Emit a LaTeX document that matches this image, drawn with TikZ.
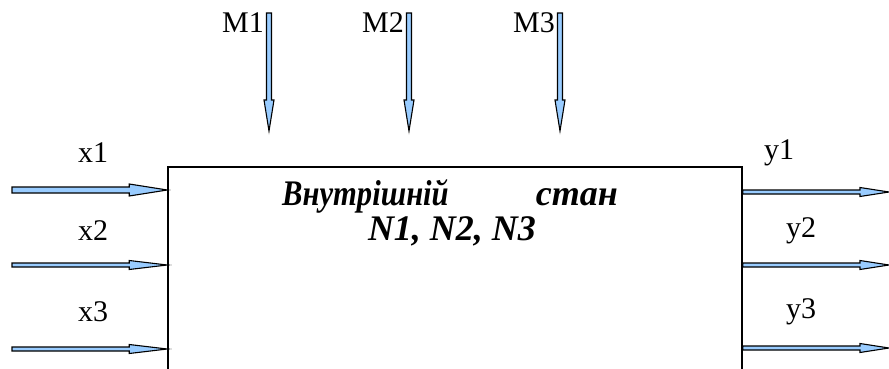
\documentclass[tikz,border=0pt]{standalone}
\usepackage{fontspec}
\setmainfont{Liberation Serif}
\usetikzlibrary{calc}
\definecolor{arrowfill}{RGB}{153,204,255}
\tikzset{
  lbl/.style={inner sep=0pt, font=\fontsize{30}{33}\selectfont},
  ctext/.style={inner sep=0pt, font=\fontsize{36}{40}\selectfont\bfseries\itshape},
  boxstyle/.style={draw, line width=1.5pt, inner sep=0pt},
  arrowbody/.style={fill=arrowfill, draw=black, line width=1.1pt, line join=miter}
}
% block arrow from #1 to #2: shaft half width #3, head length #4, head half width #5
\newcommand\blockarrow[5]{%
  \coordinate (ba-n) at ($(#2)!#4!(#1)$);
  \filldraw[arrowbody]
    ($(#1)!#3!90:(#2)$) -- ($(ba-n)!#3!-90:(#1)$) -- ($(ba-n)!#5!-90:(#1)$)
    -- (#2) -- ($(ba-n)!#5!90:(#1)$) -- ($(ba-n)!#3!90:(#1)$)
    -- ($(#1)!#3!-90:(#2)$) -- cycle;
}
\begin{document}
\begin{tikzpicture}[x=1pt,y=-1pt]
\useasboundingbox (0,0) rectangle (889,369);
\clip (0,0) rectangle (889,369);
% main box (bottom edge beyond the picture)
\node[boxstyle, minimum width=574pt, minimum height=253pt] (box) at (455,293.5) {};
% inputs
\coordinate (xs1) at (12,190);
\coordinate (xs2) at (12,265);
\coordinate (xs3) at (12,349);
\blockarrow{xs1}{box.west |- xs1}{3pt}{38pt}{6pt}
\blockarrow{xs2}{box.west |- xs2}{2pt}{38pt}{4.5pt}
\blockarrow{xs3}{box.west |- xs3}{2pt}{38pt}{4.5pt}
% outputs
\coordinate (ye1) at (889,192);
\coordinate (ye2) at (889,265);
\coordinate (ye3) at (889,348);
\blockarrow{box.east |- ye1}{ye1}{2pt}{29pt}{4.5pt}
\blockarrow{box.east |- ye2}{ye2}{2pt}{29pt}{4.5pt}
\blockarrow{box.east |- ye3}{ye3}{2pt}{29pt}{4.5pt}
% control arrows
\coordinate (ms1) at (269,13);  \coordinate (me1) at (269,131);
\coordinate (ms2) at (409,13);  \coordinate (me2) at (409,131);
\coordinate (ms3) at (560,13);  \coordinate (me3) at (560,131);
\blockarrow{ms1}{me1}{2.5pt}{31pt}{5pt}
\blockarrow{ms2}{me2}{2.5pt}{31pt}{5pt}
\blockarrow{ms3}{me3}{2.5pt}{31pt}{5pt}
% labels
\node[lbl, anchor=east] (lm1) at (264,23) {M1};
\node[lbl, anchor=east] (lm2) at (404,23) {M2};
\node[lbl, anchor=east] (lm3) at (555,23) {M3};
\node[lbl] (lx1) at (93,153) {x1};
\node[lbl] (lx2) at (93,231) {x2};
\node[lbl] (lx3) at (93,312) {x3};
\node[lbl] (ly1) at (779,153) {y1};
\node[lbl] (ly2) at (801,231) {y2};
\node[lbl] (ly3) at (801,312) {y3};
% inner text
\node[ctext, anchor=base west, xscale=0.85, transform shape] (t1) at (282,205) {Внутрішній};
\node[ctext, anchor=base east] (t2) at (618,205) {стан};
\node[ctext, anchor=base] (t3) at (452,240) {N1, N2, N3};
\end{tikzpicture}
\end{document}
